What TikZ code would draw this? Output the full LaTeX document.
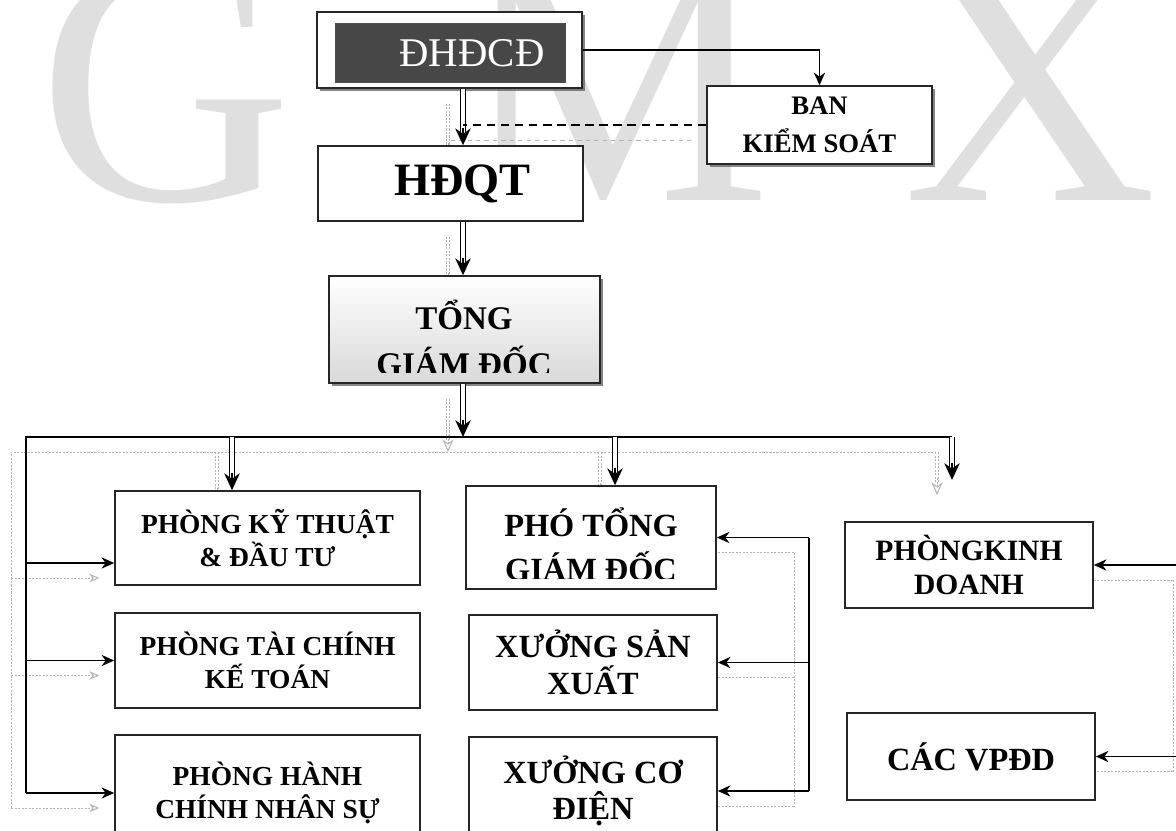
\documentclass[tikz,border=0pt]{standalone}
\usepackage{fontspec}
\setmainfont{Liberation Serif}
\usetikzlibrary{arrows.meta,calc,shadows}
\pgfdeclarelayer{ghost}
\pgfsetlayers{ghost,main}

\tikzset{
  unitbox/.style={draw=black!85, line width=1.1pt, fill=white, align=center, inner sep=0pt},
  deptbox/.style={unitbox, font=\bfseries\fontsize{19.5}{23}\selectfont},
  midbox/.style={unitbox, font=\bfseries\fontsize{23}{26}\selectfont},
  dropsh/.style={drop shadow={shadow xshift=2pt, shadow yshift=-2pt, fill=black!60, opacity=0.8}},
  wm/.style={text=gray!25, font=\fontsize{250}{250}\selectfont, inner sep=0pt, anchor=base},
  rail/.style={line width=1.1pt, black},
  link/.style={line width=1pt, black, -{Stealth[length=9pt,width=8pt]}},
  ctrl/.style={line width=1.3pt, black, dash pattern=on 6pt off 4pt},
  dshaft/.style={double, double distance=2.4pt, line width=0.9pt, black},
  dhead/.style={line width=0.9pt, black, -{Stealth[length=12pt,width=11pt]}},
  ghost/.style={gray!60, line width=0.7pt, dash pattern=on 1.5pt off 1pt}
}

% double arrow pointing down
\newcommand{\dbldown}[2]{%
  \draw[dshaft] (#1) -- ($(#2)+(0,-12)$);
  \draw[dhead] ($(#2)+(0,-17)$) -- (#2);}

\newcommand{\wiring}{%
  \dbldown{top.south -| spine}{hdqt.north -| spine}
  \draw[ctrl] (bks.west) -- (bks.west -| spine);
  \dbldown{hdqt.south -| spine}{tgd.north -| spine}
  \dbldown{tgd.south -| spine}{busL -| spine}
  \draw[rail] (busL |- hc.west) -- (busL) -- (busR);
  \dbldown{busR}{kdend}
  \dbldown{ktdrop}{ktdrop |- kt.north}
  \dbldown{phodrop}{phodrop |- pho.north}
  \draw[link] (busL |- ktin) -- (ktin);
  \draw[link] (busL |- tc.west) -- (tc.west);
  \draw[link] (busL |- hc.west) -- (hc.west);
  \draw[rail] (pho.east -| railM) -- (xcd.east -| railM);
  \foreach \n in {pho,xsx,xcd} \draw[link] (\n.east -| railM) -- (\n.east);
  \draw[rail] (pkd.east -| railR) -- (vpdd.east -| railR);
  \foreach \n in {pkd,vpdd} \draw[link] (\n.east -| railR) -- (\n.east);
}

\begin{document}
\begin{tikzpicture}[x=0.025cm, y=-0.025cm]
\useasboundingbox (0,0) rectangle (1176,830);
\clip (0,0) rectangle (1176,830);

% watermark
\begin{pgfonlayer}{ghost}
\foreach \ch/\px in {G/165, M/615, X/1030}
  \node[wm] (wm\ch) at (\px,200) {\ch};
\end{pgfonlayer}

% top of the chart
\node[unitbox, dropsh, minimum width=6.625cm, minimum height=1.9cm] (top) at (449.5,50) {};
\node[draw=black!70, fill=black!72, minimum width=5.75cm, minimum height=1.475cm, inner sep=0pt] (core) at (450,52.5) {};
\node[text=white, font=\fontsize{29}{30}\selectfont, inner sep=0pt] (corename) at (472,53) {ĐHĐCĐ};
\node[unitbox, dropsh, minimum width=5.625cm, minimum height=1.95cm, font=\bfseries\fontsize{19}{27}\selectfont] (bks) at (819.5,125) {BAN\\KIỂM SOÁT};
\node[unitbox, minimum width=6.625cm, minimum height=1.875cm, font=\bfseries\fontsize{33}{36}\selectfont] (hdqt) at (450.5,183.5) {\hspace*{0.6cm}HĐQT};

\node[unitbox, dropsh, top color=white, bottom color=black!15, minimum width=6.775cm, minimum height=2.675cm] (tgd) at (464.5,329.5) {};
\begin{scope}
  \clip (tgd.north west) rectangle ($(tgd.south east)+(0,-11)$);
  \node[align=center, font=\bfseries\fontsize{23.5}{33}\selectfont, inner sep=0pt] (tgdname) at (464,338) {TỔNG\\GIÁM ĐỐC};
\end{scope}

% departments
\node[deptbox, minimum width=7.625cm, minimum height=2.35cm] (kt) at (267.5,538) {PHÒNG KỸ THUẬT\\\& ĐẦU TƯ};
\node[deptbox, minimum width=7.625cm, minimum height=2.375cm] (tc) at (267.5,660.5) {PHÒNG TÀI CHÍNH\\KẾ TOÁN};
\node[deptbox, minimum width=7.625cm, minimum height=2.9cm] (hc) at (267.5,793) {PHÒNG HÀNH\\CHÍNH NHÂN SỰ};

\node[midbox, minimum width=6.25cm, minimum height=2.575cm] (pho) at (591,537.5) {};
\begin{scope}
  \clip (pho.north west) rectangle ($(pho.south east)+(0,-11)$);
  \node[align=center, font=\bfseries\fontsize{23}{31}\selectfont, inner sep=0pt] (phoname) at (591,544) {PHÓ TỔNG\\GIÁM ĐỐC};
\end{scope}
\node[midbox, minimum width=6.2cm, minimum height=2.375cm] (xsx) at (593,662.5) {XƯỞNG SẢN\\XUẤT};
\node[midbox, minimum width=6.2cm, minimum height=2.7cm] (xcd) at (593,791) {XƯỞNG CƠ\\ĐIỆN};

\node[unitbox, font=\bfseries\fontsize{21}{24}\selectfont, minimum width=6.2cm, minimum height=2.15cm] (pkd) at (969,565) {PHÒNGKINH\\DOANH};
\node[midbox, minimum width=6.2cm, minimum height=2.175cm] (vpdd) at (971,756.5) {CÁC VPĐD};

% points the connectors run through
\coordinate (spine) at (463,0);
\coordinate (busL) at (26,437);
\coordinate (busR) at (952,437);
\coordinate (kdend) at (952,480);
\coordinate (ktdrop) at (232,437);
\coordinate (phodrop) at (615,437);
\coordinate (ktin) at ($(kt.west)+(0,25)$);
\coordinate (railM) at (809,0);
\coordinate (railR) at (1188,0);

% grey copy of the lines, as printed
\begin{pgfonlayer}{ghost}
\begin{scope}[transform canvas={shift={(-15,15)}},
    rail/.style={ghost},
    link/.style={ghost, -{Stealth[open,length=7pt,width=6pt]}},
    ctrl/.style={ghost, dash pattern=on 3pt off 3pt},
    dshaft/.style={ghost, double, double distance=2pt},
    dhead/.style={ghost, -{Stealth[open,length=9pt,width=8pt]}}]
  \wiring
\end{scope}
\end{pgfonlayer}

\draw[link] (top.east) -| (bks.north);
\wiring
\end{tikzpicture}
\end{document}
